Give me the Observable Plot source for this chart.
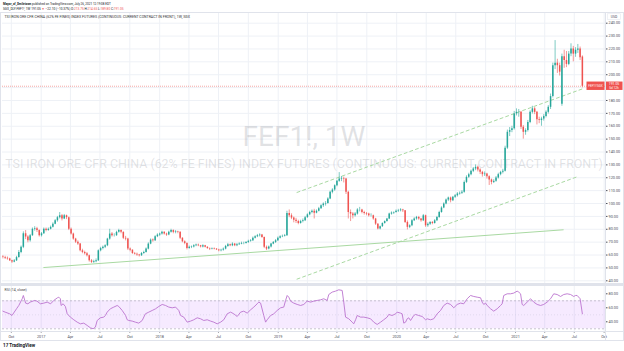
<!DOCTYPE html>
<html><head><meta charset="utf-8">
<script src="https://cdn.jsdelivr.net/npm/d3@7"></script>
<script src="https://cdn.jsdelivr.net/npm/@observablehq/plot@0.6"></script>
<style>
html,body{margin:0;padding:0;background:#fff;}
#root{position:relative;width:624px;height:351px;overflow:hidden;background:#fff;}
#root svg{position:absolute;left:0;}
.ln{position:absolute;background:#e0e3eb;}
</style></head>
<body><div id="root"></div>
<script>
// ---------------- DATA ----------------
const author = "Mayor_of_Smiletown";
const publishedText = " published on TradingView.com, July 26, 2021 12:19:08 EDT";
const symbolName = "SGX_DLY:FEF1!, 1W";
const symbolWatermark = "FEF1!, 1W";
const description = "TSI IRON ORE CFR CHINA (62% FE FINES) INDEX FUTURES (CONTINUOUS: CURRENT CONTRACT IN FRONT)";
const legendSuffix = ", 1W, SGX";
const rsiLabel = "RSI (14, close)";
const currency = "USD";
const firstWeek = "2016-09-05";   // Monday of the first weekly bar

// weekly candles [open, high, low, close]
const candles2016 = [[58.5,59.5,57,58],[58,59,56.5,57.5],[57.5,58.5,56,57],[57,57.5,55,55.5],[55.5,56,53.5,54.5],[54.5,56.5,54,55.5],[55.5,59,55,58],[58,63.5,57.5,62],[62,67,61,66],[66,78,65,76.5],[76.5,79,72,74],[74,75,69.5,71],[71,76,70,75],[75,81,74.5,80],[80,82,78.5,80.5],[80.5,81.5,77.5,79],[79,79.5,74,75]];
const candles2017 = [[75,77.5,74,76.5],[76.5,81,76,80],[80,81,78,79],[79,81,78.5,80],[80,82.5,79.5,81.5],[81.5,85,81,84],[84,87.5,83.5,86.6],[86.6,90,85.5,89],[89,93,88,90.5],[90.5,91.5,86.5,88],[88,91.5,87.5,90.5],[90.5,91,87.5,89],[89,89.5,79,80],[80,81,75.5,76.3],[76.3,77,71.5,72.4],[72.4,73,69,70],[70,71,67.5,68.5],[68.5,69,62.5,63.3],[63.3,64.5,61,62],[62,63,60,61],[61,62,58.5,59.5],[59.5,60,54.5,55.5],[55.5,56.5,53.5,54.3],[54.3,56,53.5,54.8],[54.8,57,54,55.5],[55.5,64,55,63.3],[63.3,66,62.5,65],[65,67,64,66],[66,68,65,67.2],[67.2,73,66.5,72.4],[72.4,80,71.5,76.3],[76.3,77.5,74,75],[75,76.5,74,75],[75,78.5,74.5,77.6],[77.6,80,77,79],[79,79.5,76.5,77.6],[77.6,78,72,73],[73,74.5,71,72.4],[72.4,73,63.5,64.6],[64.6,65.5,62.5,63.8],[63.8,64,60.5,61.2],[61.2,62,60,60.7],[60.7,61.5,59,60],[60,60.5,58.5,59.4],[59.4,62,59,61.2],[61.2,63,60.5,62],[62,65.5,61.5,64.6],[64.6,69.5,64,68.5],[68.5,72.5,68,71.6],[71.6,72.5,70,71],[71,75,70.5,74.2],[74.2,76.5,73.5,75.5]];
const candles2018 = [[75.5,77,74.5,76.3],[76.3,78.5,75.5,77.6],[77.6,78,75.5,76.3],[76.3,77,74.5,75.5],[75.5,78.5,75,77.6],[77.6,80,77,79],[79,79.5,76.5,77.6],[77.6,79,76.5,78],[78,78.5,76.5,77.6],[77.6,78,72,73],[73,73.5,69.5,70.3],[70.3,71,68,69],[69,69.5,64,65],[65,67,64.5,66],[66,67,65,66.3],[66.3,68,65.5,67.2],[67.2,68.5,66.5,67.7],[67.7,68.5,66.5,67.2],[67.2,67.5,65.5,66.3],[66.3,68,65.5,67.2],[67.2,67.5,65.5,66],[66,66.5,64.5,65],[65,65.5,63.5,64.6],[64.6,65.5,64,65],[65,65.5,64,64.6],[64.6,65,63.5,64],[64,64.5,62.5,63.3],[63.3,64.5,62.5,63.8],[63.8,65.5,63,64.6],[64.6,67.5,64,66.7],[66.7,69,66,68],[68,68.5,66.5,67.2],[67.2,69.5,66.5,68.5],[68.5,69,66.5,67.2],[67.2,69,66.5,68],[68,69.5,67.5,68.5],[68.5,70,68,69],[69,70,68,69],[69,70.5,68.5,69.8],[69.8,71.5,69,70.6],[70.6,72,70,71.1],[71.1,74,70.5,73],[73,75,72.5,74.2],[74.2,76,73.5,75],[75,76.5,74,75.5],[75.5,76,73,73.7],[73.7,74,65,66],[66,67,63.5,64.6],[64.6,67,64,66.3],[66.3,69,65.5,68.5],[68.5,70.5,68,69.8],[69.8,72,69,71.1],[71.1,74,70.5,73]];
const candles2019 = [[73,75,72.5,74.2],[74.2,75.5,73.5,74.5],[74.5,76,74,75],[75,94,74.5,92.3],[92.3,95,89,90.5],[90.5,92,87.5,88.7],[88.7,89.5,85,87],[87,88.5,84.5,86],[86,87,83.5,84.5],[84.5,87,84,86],[86,88,85,86.6],[86.6,90,86,89],[89,92,88.5,91.2],[91.2,94,90.5,93],[93,95,92,94],[94,95.5,88,92.5],[92.5,95,92,94],[94,97,93.5,96],[96,99,95.5,98.3],[98.3,100.5,97,99.6],[99.6,101.5,98,100],[100,104.5,99.5,103.5],[103.5,109.5,103,108.7],[108.7,111.5,107.5,110.5],[110.5,114.5,109.5,113.8],[113.8,118,113,117.2],[117.2,124,116.5,119],[119,121,117,119.5],[119.5,120.5,116,119],[119,119.5,107,108.7],[108.7,109.5,88,93],[93,95,86,91.8],[91.8,93,88,90.5],[90.5,93,89.5,91.8],[91.8,96,91,95],[95,97,93.5,95],[95,95.5,92,93],[93,94,91,92.3],[92.3,93,90.5,91.8],[91.8,92.5,89.5,90.5],[90.5,92,89.5,90.5],[90.5,91,87,88],[88,88.5,83,84],[84,84.5,79.5,80.2],[80.2,82.5,79.5,82],[82,85,81.5,84.5],[84.5,86.5,84,86],[86,88.5,85.5,88],[88,92.5,87.5,91.8],[91.8,93.5,91,92.6],[92.6,93.5,91.5,93],[93,95,92.5,94]];
const candles2020 = [[94,95.5,93,94.4],[94.4,96,93.5,95],[95,95.5,93,94.4],[94.4,94.5,84.5,85.3],[85.3,86.5,79.5,81.5],[81.5,83.5,80.5,82.7],[82.7,87.5,82,86.6],[86.6,89,86,88],[88,90,87,89.2],[89.2,90,87,88],[88,88.5,85.5,86.6],[86.6,91.5,86,90.5],[90.5,91,81.5,82.7],[82.7,85,81.5,84],[84,86,83,85.3],[85.3,86,83.5,84.5],[84.5,87.5,84,86.6],[86.6,90,86,89.2],[89.2,94,88.5,93],[93,97.5,92.5,96.5],[96.5,100.5,96,99.6],[99.6,103.5,99,102.7],[102.7,105,101.5,104.3],[104.3,105,100.5,102.2],[102.2,105.5,101.5,104.8],[104.8,107,104,106],[106,108.5,105,107.4],[107.4,109,106.5,107.9],[107.9,110,107,108.7],[108.7,117.5,108,116.4],[116.4,121.5,115.5,120.3],[120.3,123.5,119.5,122.4],[122.4,126,121.5,125],[125,128,124,126.8],[126.8,130,125.5,128.1],[128.1,129,124.5,126],[126,127,122.5,124.2],[124.2,125,120.5,122.4],[122.4,124.5,121,122.9],[122.9,123.5,119,120.8],[120.8,121.5,114,118.3],[118.3,119,114.5,116.4],[116.4,118.5,115.5,117.2],[117.2,121,116.5,119.8],[119.8,123.5,119,122.4],[122.4,125,121.5,124.2],[124.2,126.5,123,125],[125,144.5,124.5,143],[143,157,142,155.3],[155.3,159,152,156.6],[156.6,160,155,158],[158,171.5,157,169.6]];
const candles2021 = [[169.6,173.5,168,170.8],[170.8,173,167,170.8],[170.8,171.5,157.5,159.2],[159.2,160.5,150,155.3],[155.3,158,153,156.6],[156.6,164.5,155.5,163],[163,172,162,170.8],[170.8,175.5,169.5,173.5],[173.5,174.5,169,170.8],[170.8,171.5,161,165],[165,167,162,164.4],[164.4,167,160,165.6],[165.6,169,164,167.5],[167.5,172,166.5,170.8],[170.8,176,169.5,174.7],[174.7,185,173,183],[183,209,182,207],[207,226.5,204,209],[209,212,201,207],[207,209,199,202],[177,216,175.5,214],[214,219,205,211],[211,218,205.5,208],[208,218,207,216],[216,224,214,220],[220,222,210,216],[216,221,213.5,219],[219,223.5,216.5,220],[220,221.5,211,213.15],[213.75,214.65,189.8,191.05]];

// RSI(14): [weeks after first bar, value]
const rsiPoints = [[0,55.2],[1,53.8],[3,51.4],[4,49],[6,58.6],[7,63.3],[8.5,72.9],[9,77.6],[10,66.7],[11,65.7],[12,68.1],[14,70.5],[15,69.5],[16.5,65.7],[18,66.7],[19.5,68.1],[21,65.7],[22.4,70.5],[24,74.3],[24.6,75.2],[25.3,72.9],[25.6,63.3],[26.5,65.7],[27.5,61.9],[28.3,51.4],[29.7,46.7],[31.2,42.9],[32.7,39.5],[34.1,37.1],[35.6,38.1],[37.1,34.8],[38.5,31.4],[39.7,30],[40.7,32.4],[41.5,41.9],[42.9,45.7],[44.4,46.7],[45.1,49],[45.9,53.8],[47.3,58.6],[48.8,61],[50.3,63.3],[51,61.9],[52.5,56.2],[54,49],[54.7,42.9],[55.4,41.9],[56.9,41],[58.3,39.5],[59.8,38.1],[61.3,41.9],[62.7,51.4],[64.2,53.8],[65.7,56.2],[67.2,58.6],[68.6,61.9],[70.1,64.8],[71.6,63.3],[73,61],[74.5,60],[76,61],[77.4,56.2],[78.2,49],[79.6,46.7],[81.1,39.5],[82.6,41],[84,42.9],[85.5,45.7],[87,44.3],[88.4,41.9],[89.9,42.9],[91.4,41],[92.8,39.5],[94.3,37.1],[95.8,39.5],[97.2,42.9],[98.7,51.4],[100.2,53.8],[101.6,51.4],[103.1,47.6],[104.6,53.8],[106,55.2],[107.5,52.4],[109,57.1],[110.4,61],[111.9,65.7],[112.6,68.1],[113.4,66.7],[114.8,49],[115.6,39.5],[116.3,42.9],[117.8,49],[119.2,51.4],[120.7,56.2],[122.2,60],[123.6,61],[124.4,70.5],[125.1,77.6],[125.8,75.2],[126.6,69.5],[128,66.7],[129.5,64.8],[131,63.3],[132.4,64.8],[133.9,69.5],[135.4,68.1],[136.8,69.5],[138.3,70.5],[139.8,71.4],[141.2,72.9],[142.7,70.5],[143.4,79],[144.9,82.4],[146.4,83.8],[147.8,85.7],[149.3,84.8],[150,68.1],[150.8,46.7],[152.2,44.3],[153.7,39.5],[154.4,37.1],[155.2,42.9],[155.9,49],[157.4,46.7],[158.8,46.7],[160.3,45.7],[161.8,44.3],[163.2,39.5],[164.7,36.2],[166.2,39.5],[167.6,42.9],[169.1,46.7],[169.8,50.5],[171.3,49],[172.8,51.4],[173.5,53.8],[175,52.4],[175.7,51.4],[176.4,38.1],[177.2,39.5],[177.9,44.3],[178.6,45.7],[179.4,41.9],[180.8,49],[181.6,50.5],[183,49],[184.5,47.6],[186,42.9],[186.7,44.3],[188.2,42.9],[189.6,44.3],[191.1,51.4],[192.6,56.2],[194,63.3],[195.5,66.7],[197,64.8],[198.4,60],[199.9,64.8],[201.4,66.7],[202.8,65.7],[204.3,72.9],[205.8,77.6],[207.2,76.2],[208.7,75.2],[210.2,74.3],[210.9,68.1],[211.6,64.8],[212.4,66.7],[213.1,63.3],[214.6,58.6],[216,55.2],[217.5,58.6],[219,63.3],[219.7,65.7],[220.4,77.6],[221.9,80],[223.4,80],[224.8,81],[226.3,83.8],[227,82.4],[227.8,80],[228.5,64.8],[229.2,63.3],[230.7,68.1],[232.2,72.9],[233.6,68.1],[235.1,64.8],[236.6,63.3],[238,64.8],[239.5,68.1],[241,72.9],[242.4,80],[243.9,79],[245.4,76.2],[246.8,79],[248.3,80],[249.8,79],[251.2,76.2],[252,77.6],[252.7,77.6],[254,73],[255,51.4]];

// drawings
const trendSolid = [{date:"2017-01-09", price:50.3},{date:"2021-05-28", price:79.6}];
const channelUpper = [{date:"2019-02-28", price:108.6},{date:"2021-07-26", price:189.0}];
const channelLower = [{date:"2019-02-28", price:41.3},{date:"2021-07-15", price:121.2}];

// ticks
const priceTicks = [40,50,60,70,80,90,100,110,120,130,140,150,160,170,180,190,200,210,220,230,240];
const rsiTicks = [40,60,80];
const rsiBands = [30,70];
const rsiMid = [50];
const quarterTicks = ["2016-10-01","2017-01-01","2017-04-01","2017-07-01","2017-10-01","2018-01-01","2018-04-01","2018-07-01","2018-10-01","2019-01-01","2019-04-01","2019-07-01","2019-10-01","2020-01-01","2020-04-01","2020-07-01","2020-10-01","2021-01-01","2021-04-01","2021-07-01","2021-10-01"];
const monthLabels = ["Jan","Feb","Mar","Apr","May","Jun","Jul","Aug","Sep","Oct","Nov","Dec"];

// ---------------- BUILD ----------------
const UP = "#26a69a", DOWN = "#ef5350";
const DAY = 864e5;
const t0 = new Date(firstWeek + "T00:00:00Z").getTime();
const allCandles = [...candles2016, ...candles2017, ...candles2018, ...candles2019, ...candles2020, ...candles2021]
  .map(([o,h,l,c], i) => ({date: new Date(t0 + i*7*DAY), o, h, l, c}));
const upC = allCandles.filter(d => d.c >= d.o);
const dnC = allCandles.filter(d => d.c < d.o);
const rsi = rsiPoints.map(([w,v]) => ({date: new Date(t0 + w*7*DAY), v}));
const qTicks = quarterTicks.map(s => new Date(s + "T00:00:00Z"));
const fmtQ = d => d.getUTCMonth() === 0 ? String(d.getUTCFullYear()) : monthLabels[d.getUTCMonth()];
const toDates = arr => arr.map(d => ({date: new Date(d.date + "T00:00:00Z"), price: d.price}));
const last = allCandles[allCandles.length-1];
const prev = allCandles[allCandles.length-2];

const xOpt = {type:"utc", domain:[new Date("2017-01-01T00:00:00Z"), new Date("2021-01-01T00:00:00Z")], range:[40.7, 515]};
const GRID = "#eef1f6";
const AX = "#4a4d57";
const FONT = "Roboto, 'Liberation Sans', sans-serif";

const main = Plot.plot({
  width: 624, height: 284,
  marginTop: 13, marginBottom: 1, marginLeft: 2, marginRight: 19,
  x: {...xOpt, axis: null},
  y: {domain:[40,240], range:[280.3, 22.7]},
  style: {background:"transparent", fontFamily: FONT, color: AX, overflow:"visible"},
  marks: [
    Plot.ruleX(qTicks, {stroke: GRID}),
    Plot.ruleY(priceTicks, {stroke: GRID}),
    Plot.text([symbolWatermark], {frameAnchor:"middle", dy:-11, fontSize:28, fill:"rgba(149,152,161,0.28)", fontFamily: FONT}),
    Plot.text([description], {frameAnchor:"middle", dy:15.5, fontSize:14, fill:"rgba(149,152,161,0.28)", fontFamily: FONT}),
    Plot.ruleY([last.c], {stroke: DOWN, strokeOpacity: 0.5, strokeDasharray:"1,1"}),
    Plot.line(toDates(trendSolid), {x:"date", y:"price", stroke:"#a9d9a2", strokeWidth:1}),
    Plot.line(toDates(channelUpper), {x:"date", y:"price", stroke:"#a9d9a2", strokeWidth:1, strokeDasharray:"3,3"}),
    Plot.line(toDates(channelLower), {x:"date", y:"price", stroke:"#a9d9a2", strokeWidth:1, strokeDasharray:"3,3"}),
    Plot.ruleX(upC, {x:"date", y1:"l", y2:"h", stroke: UP, strokeWidth:0.6}),
    Plot.ruleX(dnC, {x:"date", y1:"l", y2:"h", stroke: DOWN, strokeWidth:0.6}),
    Plot.ruleX(upC, {x:"date", y1:"o", y2:"c", stroke: UP, strokeWidth:1.5}),
    Plot.ruleX(dnC, {x:"date", y1:"o", y2:"c", stroke: DOWN, strokeWidth:1.5}),
    Plot.axisY({ticks: priceTicks, anchor:"right", tickSize:1.5, tickPadding:1.5, tickFormat: d => d.toFixed(2), fontSize:3.8, label:null}),
    Plot.text([description + legendSuffix], {frameAnchor:"top-left", dx:2, dy:2.2, fontSize:3.4, fill:"#333", fontFamily: FONT})
  ]
});

const rsiChart = Plot.plot({
  width: 624, height: 67,
  marginTop: 2, marginBottom: 20, marginLeft: 2, marginRight: 19,
  x: {...xOpt},
  y: {domain:[30,80], range:[44.3, 9.3]},
  style: {background:"transparent", fontFamily: FONT, color: AX, overflow:"visible"},
  marks: [
    Plot.ruleX(qTicks, {stroke: GRID}),
    Plot.rect([0], {y1: rsiBands[0], y2: rsiBands[1], fill:"#9915ff", fillOpacity:0.09}),
    Plot.ruleY(rsiBands, {stroke:"#b9b4c4", strokeDasharray:"2,2", strokeWidth:0.8}),
    Plot.ruleY(rsiMid, {stroke:"#d4cfe0", strokeDasharray:"1,2", strokeWidth:0.6}),
    Plot.line(rsi, {x:"date", y:"v", stroke:"#bb74cf", strokeWidth:0.9}),
    Plot.axisY({ticks: rsiTicks, anchor:"right", tickSize:1.5, tickPadding:1.5, tickFormat: d => d.toFixed(2), fontSize:3.8, label:null}),
    Plot.axisX({ticks: qTicks, anchor:"bottom", tickSize:1.5, tickPadding:2, tickFormat: fmtQ, fontSize:3.8, label:null}),
    Plot.text([rsiLabel], {frameAnchor:"top-left", dx:2, dy:1.8, fontSize:3.5, fill:"#444", fontFamily: FONT})
  ]
});

const root = document.getElementById("root");
main.style.top = "0px";
rsiChart.style.top = "284px";
root.appendChild(main);
root.appendChild(rsiChart);

// size a text so that its natural width matches the width seen in the screenshot
function fitWidth(el, target){
  const fs = parseFloat(getComputedStyle(el).fontSize) || 10;
  const w = el.getComputedTextLength();
  if (w > 0) el.style.fontSize = (fs * target / w).toFixed(3) + "px";
}

d3.select(main).selectAll("text").each(function(){
  if (this.textContent === description) fitWidth(this, 598);
  if (this.textContent === description + legendSuffix) fitWidth(this, 186);
});

// header (title / subtitle)
const ms = d3.select(main);
const h1 = ms.append("text").attr("x",3).attr("y",4.6).attr("font-size",3.3).attr("font-family",FONT).attr("fill","#131722")
  .attr("text-anchor","start");
h1.append("tspan").attr("font-weight","bold").text(author);
h1.append("tspan").text(publishedText);
fitWidth(h1.node(), 108);
const chg = last.c - prev.c, pct = chg/prev.c*100;
const fmt2 = v => (v<0?"\u2212":"") + Math.abs(v).toFixed(2);
const segs = [[symbolName+" ", "#131722"],[last.c.toFixed(2)+" ","#131722"],["\u25BC ", DOWN],[fmt2(chg)+" ("+fmt2(pct)+"%) ","#131722"],
  ["O:","#131722"],[last.o.toFixed(2)+" ",DOWN],["H:","#131722"],[last.h.toFixed(2)+" ",DOWN],["L:","#131722"],[last.l.toFixed(2)+" ",DOWN],["C:","#131722"],[last.c.toFixed(2),DOWN]];
const h2 = ms.append("text").attr("x",3).attr("y",9.9).attr("font-size",3.3).attr("font-family",FONT)
  .attr("text-anchor","start");
segs.forEach(([t,c]) => h2.append("tspan").attr("fill",c).text(t));
fitWidth(h2.node(), 121);

// USD label & last price label on the price axis
const ys = main.scale("y");
const yLast = ys.apply(last.c);
ms.append("rect").attr("x",607.5).attr("y",13.8).attr("width",13).attr("height",5.5).attr("fill","#fff").attr("stroke","#e0e3eb").attr("stroke-width",0.5);
ms.append("text").attr("x",614).attr("y",17.8).attr("font-size",3.4).attr("text-anchor","middle").attr("font-family",FONT).attr("fill",AX).text(currency);
ms.append("rect").attr("x",586.5).attr("y",yLast-4.2).attr("width",18).attr("height",8.4).attr("fill",DOWN);
ms.append("text").attr("x",595.5).attr("y",yLast+1.2).attr("font-size",3).attr("text-anchor","middle").attr("font-family",FONT).attr("fill","#fff").text("FEF1!/SGX");
ms.append("rect").attr("x",605.5).attr("y",yLast-4.2).attr("width",17).attr("height",8.4).attr("fill",DOWN);
ms.append("text").attr("x",614).attr("y",yLast-0.6).attr("font-size",3.4).attr("text-anchor","middle").attr("font-family",FONT).attr("fill","#fff").text(last.c.toFixed(2));
ms.append("text").attr("x",614).attr("y",yLast+3.3).attr("font-size",3.1).attr("text-anchor","middle").attr("font-family",FONT).attr("fill","#fff").text("5d 12h");

// TradingView logo caption
const rs = d3.select(rsiChart);
const logo = rs.append("text").attr("x",3).attr("y",62.5).attr("font-size",4.6).attr("font-weight","bold").attr("font-family",FONT).attr("fill","#131722").attr("text-anchor","start");
logo.append("tspan").text("17 ");
logo.append("tspan").text("TradingView");

// chart frame lines
function line(l,t,w,h){const d=document.createElement("div");d.className="ln";Object.assign(d.style,{left:l+"px",top:t+"px",width:w+"px",height:h+"px"});root.appendChild(d);}
line(0,12,624,1);      // top
line(0,12,1,329);      // left
line(623,12,1,329);    // right
line(0,340,624,1);     // bottom
line(605,12,1,329);    // price-scale divider
line(0,283,624,3);     // pane separator
line(0,331,624,1);     // time-scale divider
</script>
</body></html>
